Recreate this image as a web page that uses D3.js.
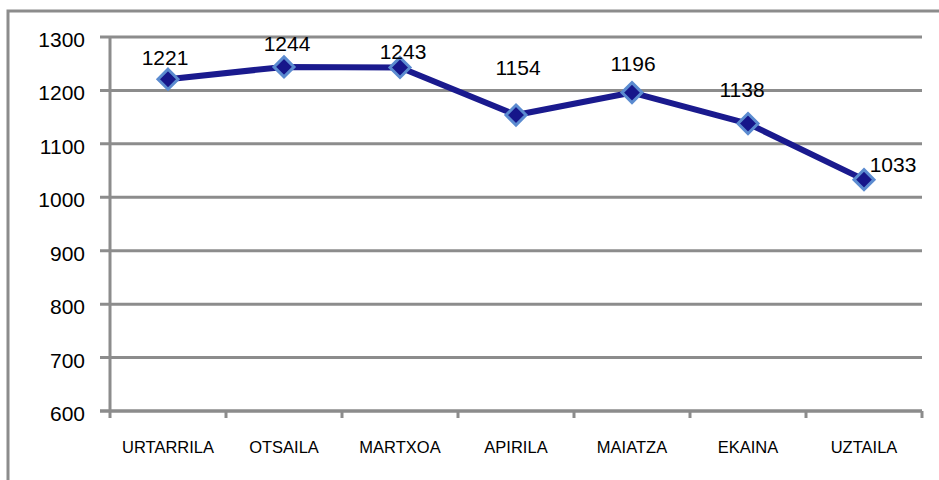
<!DOCTYPE html>
<html>
<head>
<meta charset="utf-8">
<script src="https://cdn.jsdelivr.net/npm/d3@7"></script>
<style>
  body { margin: 0; background: #fff; }
  svg { display: block; }
</style>
</head>
<body>
<div id="chart"></div>
<script>
var months = ["URTARRILA", "OTSAILA", "MARTXOA", "APIRILA", "MAIATZA", "EKAINA", "UZTAILA"];
var values = [1221, 1244, 1243, 1154, 1196, 1138, 1033];
var yTicks = [600, 700, 800, 900, 1000, 1100, 1200, 1300];

// where excel put each data label, relative to the point
var labelOffsets = [[-3, -14], [3, -16], [3, -8], [2, -40], [1, -22], [-6, -27], [29, -8]];

var width = 939, height = 480;
var plotLeft = 110, plotRight = 922, plotTop = 37, plotBottom = 411;
var grey = "#8c8c8c";

var svg = d3.select("#chart").append("svg")
	.attr("width", width)
	.attr("height", height);

// outer chart frame, runs off the right and bottom
svg.append("rect")
	.attr("x", 8).attr("y", 11)
	.attr("width", 1000).attr("height", 1000)
	.attr("fill", "none")
	.attr("stroke", grey)
	.attr("stroke-width", 3);

var x = d3.scaleBand().domain(months).range([plotLeft, plotRight]);
var y = d3.scaleLinear().domain([600, 1300]).range([plotBottom, plotTop]);

// gridlines
svg.append("g").selectAll("line")
	.data(yTicks)
	.enter()
	.append("line")
	.attr("x1", plotLeft - 10)
	.attr("x2", plotRight)
	.attr("y1", function (d) { return y(d); })
	.attr("y2", function (d) { return y(d); })
	.attr("stroke", grey)
	.attr("stroke-width", 3);

// y axis labels
var yAxis = svg.append("g")
	.attr("transform", "translate(" + plotLeft + ",0)")
	.call(d3.axisLeft(y).tickValues(yTicks).tickFormat(d3.format("d")).tickSize(0).tickPadding(25));
yAxis.select(".domain").remove();
yAxis.selectAll("text")
	.attr("dy", "0.45em")
	.style("font-family", "Liberation Sans, Arial, sans-serif")
	.style("font-size", "21px")
	.attr("fill", "#000");

// axis lines
svg.append("line")
	.attr("x1", plotLeft).attr("x2", plotLeft)
	.attr("y1", plotTop).attr("y2", plotBottom + 7)
	.attr("stroke", grey).attr("stroke-width", 3);

svg.append("line")
	.attr("x1", plotLeft - 10).attr("x2", plotRight)
	.attr("y1", plotBottom).attr("y2", plotBottom)
	.attr("stroke", grey).attr("stroke-width", 3);

// category boundary ticks
var bounds = months.map(function (m) { return x(m) + x.bandwidth(); });
svg.append("g").selectAll("line")
	.data(bounds)
	.enter()
	.append("line")
	.attr("x1", function (d) { return d; })
	.attr("x2", function (d) { return d; })
	.attr("y1", plotBottom)
	.attr("y2", plotBottom + 7)
	.attr("stroke", grey)
	.attr("stroke-width", 3);

var xAxis = svg.append("g")
	.attr("transform", "translate(0," + plotBottom + ")")
	.call(d3.axisBottom(x).tickSize(0).tickPadding(30));
xAxis.select(".domain").remove();
xAxis.selectAll("text")
	.style("font-family", "Liberation Sans, Arial, sans-serif")
	.style("font-size", "16.5px")
	.attr("fill", "#000");

// series line
var cx = function (d, i) { return x(months[i]) + x.bandwidth() / 2; };
var line = d3.line()
	.x(cx)
	.y(function (d) { return y(d); });

svg.append("path")
	.datum(values)
	.attr("d", line)
	.attr("fill", "none")
	.attr("stroke", "#1a1a8e")
	.attr("stroke-width", 6)
	.attr("stroke-linejoin", "round");

// diamond markers
svg.append("g").selectAll("path")
	.data(values)
	.enter()
	.append("path")
	.attr("transform", function (d, i) { return "translate(" + cx(d, i) + "," + y(d) + ")"; })
	.attr("d", "M0,-10L10,0L0,10L-10,0Z")
	.attr("fill", "#16168a")
	.attr("stroke", "#5b8bd0")
	.attr("stroke-width", 3);

// data labels
svg.append("g").selectAll("text")
	.data(values)
	.enter()
	.append("text")
	.attr("x", function (d, i) { return cx(d, i) + labelOffsets[i][0]; })
	.attr("y", function (d, i) { return y(d) + labelOffsets[i][1]; })
	.attr("text-anchor", "middle")
	.style("font-family", "Liberation Sans, Arial, sans-serif")
	.style("font-size", "21px")
	.attr("fill", "#000")
	.text(function (d) { return d; });
</script>
</body>
</html>
